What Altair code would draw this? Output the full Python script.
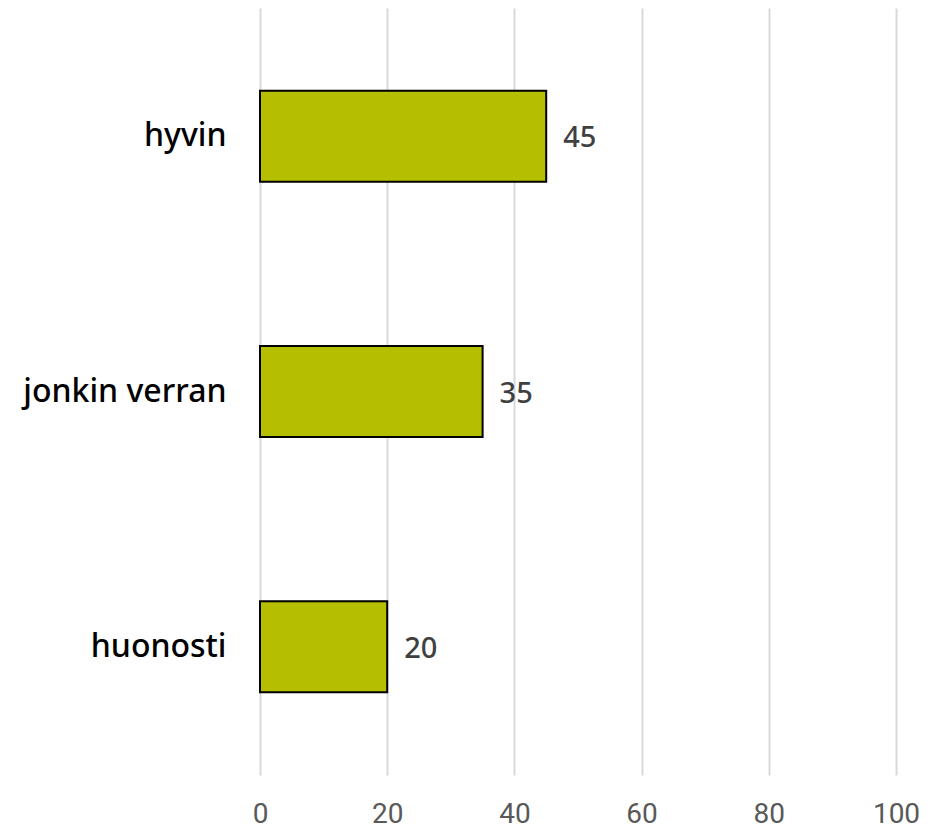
import altair as alt
import pandas as pd

categories = ["hyvin", "jonkin verran", "huonosti"]
values = [45, 35, 20]
x_ticks = [0, 20, 40, 60, 80, 100]

df = pd.DataFrame({"cat": categories, "val": values})

y_enc = alt.Y("cat:N", sort=categories, title=None,
              scale=alt.Scale(paddingInner=0.643, paddingOuter=0.324),
              axis=alt.Axis(domain=False, ticks=False, labelFontSize=32,
                            labelFont="Noto Sans", labelColor="#000000",
                            labelFontWeight=500, labelPadding=34, labelLimit=400,
                            grid=False))

bars = alt.Chart(df).mark_bar(color="#b5bf00", stroke="#000000", strokeWidth=2).encode(
    x=alt.X("val:Q", title=None,
            scale=alt.Scale(domain=[0, 100], nice=False),
            axis=alt.Axis(values=x_ticks, domain=False, ticks=False, labelFlush=False,
                          labelFontSize=28, labelFont="Roboto",
                          labelColor="#595959", labelPadding=25,
                          gridColor="#d9d9d9", gridWidth=2)),
    y=y_enc,
)

text = alt.Chart(df).mark_text(align="left", baseline="middle", dx=17, dy=2,
                               fontSize=29, font="Noto Sans", fontWeight=500,
                               color="#404040").encode(
    x="val:Q", y=alt.Y("cat:N", sort=categories), text="val:Q"
)

chart = (bars + text).properties(
    width=636, height=767,
    autosize=alt.AutoSizeParams(type="none"),
    padding={"left": 252, "top": 0, "right": 26, "bottom": 55},
).configure_view(stroke=None)

chart.save("out.html", embed_options={"renderer": "svg", "actions": False})
